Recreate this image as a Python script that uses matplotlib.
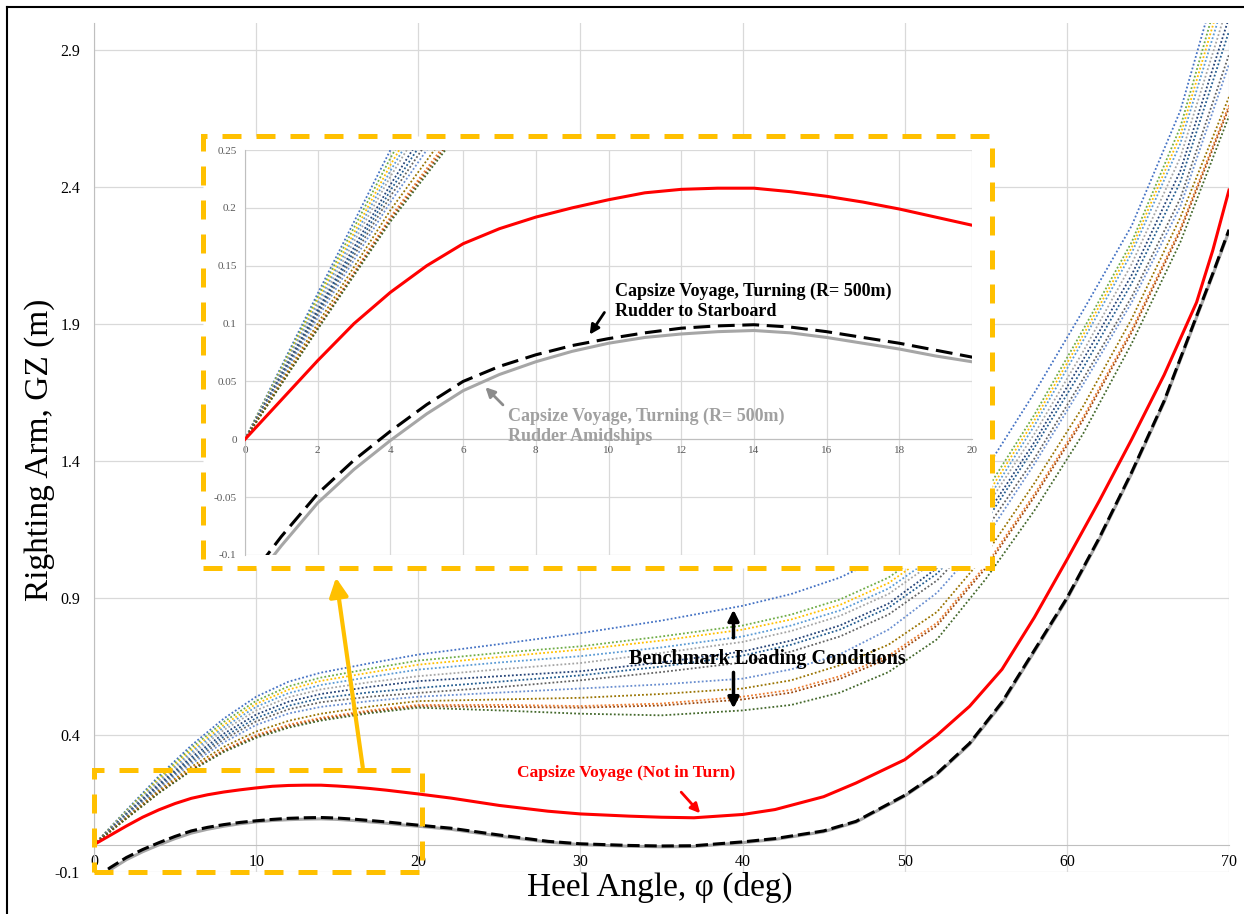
import matplotlib
matplotlib.use("Agg")
import matplotlib.pyplot as plt
from matplotlib.patches import Rectangle
from matplotlib.lines import Line2D

plt.rcParams['font.family'] = ['Liberation Serif', 'DejaVu Serif']

# heel angles (deg) for the capsize voyage curves
heel = [0, 1, 2, 3, 4, 5, 6, 7, 8, 9, 10, 11, 12, 13, 14, 15, 16, 17, 18, 19, 20,
        22, 25, 28, 30, 33, 35, 37, 40, 42, 45, 47, 50, 52, 54, 56, 58, 60, 62, 64, 66, 68, 69, 70]

# capsize voyage, not in turn (red)
gz_not_turn = [0, 0.034, 0.068, 0.100, 0.127, 0.150, 0.169, 0.182, 0.192, 0.200, 0.207,
               0.213, 0.216, 0.217, 0.217, 0.214, 0.210, 0.205, 0.199, 0.192, 0.185,
               0.170, 0.143, 0.122, 0.112, 0.104, 0.100, 0.098, 0.110, 0.128, 0.175, 0.225,
               0.310, 0.400, 0.505, 0.640, 0.830, 1.040, 1.255, 1.480, 1.715, 1.980, 2.170, 2.390]

# turning R=500m, rudder to starboard (black dashed)
gz_starboard = [-0.125, -0.084, -0.047, -0.018, 0.007, 0.030, 0.050, 0.063, 0.073, 0.081, 0.087,
                0.092, 0.096, 0.098, 0.099, 0.097, 0.093, 0.088, 0.083, 0.077, 0.071,
                0.060, 0.035, 0.012, 0.003, -0.003, -0.005, -0.004, 0.010, 0.022, 0.050, 0.085,
                0.180, 0.260, 0.370, 0.520, 0.710, 0.900, 1.120, 1.360, 1.620, 1.930, 2.085, 2.245]

# turning R=500m, rudder amidships (grey)
gz_amidships = [-0.132, -0.092, -0.055, -0.026, -0.001, 0.022, 0.042, 0.056, 0.067, 0.076, 0.083,
                0.088, 0.091, 0.093, 0.094, 0.092, 0.088, 0.083, 0.078, 0.072, 0.067,
                0.056, 0.031, 0.009, 0.000, -0.006, -0.008, -0.007, 0.007, 0.019, 0.047, 0.082,
                0.177, 0.257, 0.366, 0.515, 0.705, 0.895, 1.115, 1.355, 1.615, 1.925, 2.080, 2.240]

# benchmark loading conditions (dotted)
heel_bench = [0, 2, 4, 6, 8, 10, 12, 14, 17, 20, 25, 30, 35, 40, 43, 46, 49, 52, 55, 58, 61, 64, 67, 70]
bench_gz = [
    [0, .126, .250, .362, .460, .540, .595, .628, .662, .694, .732, .772, .818, .872, .915, .975, 1.06, 1.18, 1.37, 1.65, 1.95, 2.26, 2.68, 3.30],
    [0, .123, .243, .353, .448, .525, .578, .610, .642, .672, .700, .724, .760, .800, .840, .895, .975, 1.10, 1.29, 1.57, 1.88, 2.20, 2.62, 3.24],
    [0, .120, .237, .344, .437, .514, .566, .598, .628, .657, .685, .712, .745, .785, .822, .875, .955, 1.08, 1.27, 1.55, 1.86, 2.18, 2.59, 3.19],
    [0, .118, .232, .337, .428, .503, .553, .583, .612, .639, .665, .688, .720, .760, .800, .855, .935, 1.06, 1.25, 1.53, 1.84, 2.16, 2.56, 3.14],
    [0, .115, .227, .329, .418, .490, .538, .567, .593, .615, .640, .663, .700, .740, .780, .835, .915, 1.04, 1.23, 1.50, 1.80, 2.12, 2.51, 3.08],
    [0, .112, .220, .319, .405, .475, .522, .550, .576, .597, .615, .633, .665, .705, .745, .800, .880, 1.01, 1.20, 1.47, 1.77, 2.08, 2.46, 3.02],
    [0, .110, .215, .311, .394, .462, .507, .535, .556, .572, .595, .618, .650, .690, .730, .785, .865, .990, 1.18, 1.45, 1.74, 2.05, 2.42, 2.97],
    [0, .108, .210, .303, .384, .450, .494, .520, .540, .554, .575, .600, .630, .665, .705, .760, .840, .965, 1.15, 1.41, 1.70, 2.00, 2.36, 2.885],
    [0, .105, .205, .295, .373, .437, .479, .503, .524, .540, .555, .570, .585, .606, .640, .695, .785, .920, 1.12, 1.39, 1.68, 1.98, 2.33, 2.85],
    [0, .100, .198, .284, .357, .413, .452, .478, .504, .524, .530, .536, .550, .570, .600, .655, .730, .850, 1.06, 1.32, 1.60, 1.92, 2.29, 2.73],
    [0, .097, .192, .276, .346, .400, .438, .463, .490, .510, .510, .506, .515, .540, .565, .615, .690, .810, 1.02, 1.28, 1.56, 1.88, 2.25, 2.70],
    [0, .096, .190, .273, .342, .395, .432, .458, .485, .505, .503, .500, .508, .530, .555, .605, .680, .800, 1.01, 1.27, 1.55, 1.87, 2.24, 2.69],
    [0, .095, .188, .270, .338, .390, .427, .453, .480, .500, .490, .478, .472, .490, .510, .555, .630, .750, .970, 1.22, 1.50, 1.83, 2.20, 2.66],
]
bench_colors = ['#4472C4', '#70AD47', '#FFC000', '#5B9BD5', '#A5A5A5', '#264478', '#255E91',
                '#636363', '#698ED0', '#997300', '#ED7D31', '#9E480E', '#43682B']

main_yticks = [-0.1, 0.4, 0.9, 1.4, 1.9, 2.4, 2.9]
main_ylabels = ['-0.1', '0.4', '0.9', '1.4', '1.9', '2.4', '2.9']
main_xticks = [0, 10, 20, 30, 40, 50, 60, 70]
inset_xticks = [0, 2, 4, 6, 8, 10, 12, 14, 16, 18, 20]
inset_yticks = [-0.1, -0.05, 0, 0.05, 0.1, 0.15, 0.2, 0.25]
inset_ylabels = ['-0.1', '-0.05', '0', '0.05', '0.1', '0.15', '0.2', '0.25']

YELLOW = '#FFC000'
GRID = '#D9D9D9'


def draw_curves(ax, lw_main, dash):
    for vals, c in zip(bench_gz, bench_colors):
        ax.plot(heel_bench, vals, color=c, lw=1.3, linestyle=(0, (1, 1.2)), zorder=2)
    ax.plot(heel, gz_amidships, color='#A6A6A6', lw=lw_main, zorder=3)
    ax.plot(heel, gz_starboard, color='black', lw=lw_main, linestyle=(0, dash), zorder=4)
    ax.plot(heel, gz_not_turn, color='#FF0000', lw=lw_main, zorder=5)


fig = plt.figure(figsize=(12.44, 9.14), dpi=100)

# main chart
ax = fig.add_axes([94 / 1244, 1 - 872 / 914, 1135 / 1244, 849 / 914])
ax.set_zorder(0)
draw_curves(ax, 2.2, (4, 1.6))
ax.set_xlim(0, 70)
ax.set_ylim(-0.1, 3.0)
ax.set_xticks(main_xticks)
ax.set_xticklabels([str(t) for t in main_xticks])
ax.set_yticks(main_yticks)
ax.set_yticklabels(main_ylabels)
ax.grid(True, color=GRID, lw=0.9)
ax.set_axisbelow(True)
for s in ['top', 'right']:
    ax.spines[s].set_visible(False)
ax.spines['bottom'].set_position(('data', 0))
ax.spines['bottom'].set_color('#BFBFBF')
ax.spines['left'].set_color('#BFBFBF')
ax.tick_params(axis='y', length=0, pad=10, labelsize=11.5)
ax.tick_params(axis='x', length=0, pad=7, labelsize=11.5)

# small zoom box and arrow to the inset
ax.add_patch(Rectangle((0, -0.1), 20.2, 0.372, fill=False, edgecolor=YELLOW, lw=3.6,
                       linestyle=(0, (3.8, 3.0)), clip_on=False, zorder=6))
ax.annotate('', xy=(14.9, 0.985), xytext=(16.6, 0.272),
            arrowprops=dict(arrowstyle='-|>', color=YELLOW, lw=3, mutation_scale=28))

# annotations on main chart
ax.text(32.8, 0.26, 'Capsize Voyage (Not in Turn)', color='#FF0000', fontsize=12.5,
        fontweight='bold', ha='center', va='center')
ax.annotate('', xy=(37.5, 0.107), xytext=(36.1, 0.199),
            arrowprops=dict(arrowstyle='-|>', color='#FF0000', lw=2, mutation_scale=14))
ax.text(41.5, 0.679, 'Benchmark Loading Conditions', color='black', fontsize=14.5,
        fontweight='bold', ha='center', va='center', zorder=7)
ax.annotate('', xy=(39.44, 0.868), xytext=(39.44, 0.745),
            arrowprops=dict(arrowstyle='-|>', color='black', lw=2.5, mutation_scale=16))
ax.annotate('', xy=(39.44, 0.487), xytext=(39.44, 0.639),
            arrowprops=dict(arrowstyle='-|>', color='black', lw=2.5, mutation_scale=16))

# white box behind the inset with dashed yellow border
box = Rectangle((203 / 1244, 1 - 568 / 914), 789 / 1244, 432 / 914, transform=fig.transFigure,
                facecolor='white', edgecolor=YELLOW, lw=3.6, linestyle=(0, (3.8, 3.0)), zorder=1)
fig.add_artist(box)

# inset chart
ax_in = fig.add_axes([245 / 1244, 1 - 555 / 914, 727 / 1244, 405 / 914])
ax_in.set_zorder(2)
draw_curves(ax_in, 2.2, (5.5, 2.5))
ax_in.set_xlim(0, 20)
ax_in.set_ylim(-0.1, 0.25)
ax_in.set_xticks(inset_xticks)
ax_in.set_xticklabels([str(t) for t in inset_xticks])
ax_in.set_yticks(inset_yticks)
ax_in.set_yticklabels(inset_ylabels)
ax_in.grid(True, color=GRID, lw=0.9)
ax_in.set_axisbelow(True)
for s in ['top', 'right']:
    ax_in.spines[s].set_visible(False)
ax_in.spines['bottom'].set_position(('data', 0))
ax_in.spines['bottom'].set_color('#BFBFBF')
ax_in.spines['left'].set_color('#BFBFBF')
ax_in.tick_params(axis='y', length=0, pad=6, labelsize=8, labelcolor='#595959')
ax_in.tick_params(axis='x', length=0, pad=5, labelsize=8, labelcolor='#595959')

ax_in.text(10.18, 0.1355, 'Capsize Voyage, Turning (R= 500m)\nRudder to Starboard',
           fontsize=13, fontweight='bold', color='black', ha='left', va='top', linespacing=1.25)
ax_in.annotate('', xy=(9.44, 0.0885), xytext=(9.93, 0.1116),
               arrowprops=dict(arrowstyle='-|>', color='black', lw=2, mutation_scale=14))
ax_in.text(7.24, 0.0275, 'Capsize Voyage, Turning (R= 500m)\nRudder Amidships',
           fontsize=13, fontweight='bold', color='#A0A0A0', ha='left', va='top', linespacing=1.25)
ax_in.annotate('', xy=(6.56, 0.0467), xytext=(7.15, 0.028),
               arrowprops=dict(arrowstyle='-|>', color='#8C8C8C', lw=2, mutation_scale=14))

# axis titles
fig.text(40 / 1244, 1 - 450 / 914, 'Righting Arm, GZ (m)', rotation=90, fontsize=24,
         ha='center', va='center')
fig.text(660 / 1244, 1 - 887 / 914, 'Heel Angle, \u03c6 (deg)', fontsize=24,
         ha='center', va='center')

# outer border (top and left visible)
fig.add_artist(Line2D([7 / 1244, 1.01], [1 - 7 / 914, 1 - 7 / 914], transform=fig.transFigure,
                      color='black', lw=1.5))
fig.add_artist(Line2D([7 / 1244, 7 / 1244], [-0.01, 1 - 7 / 914], transform=fig.transFigure,
                      color='black', lw=1.5))

fig.savefig('out.png', dpi=100)
